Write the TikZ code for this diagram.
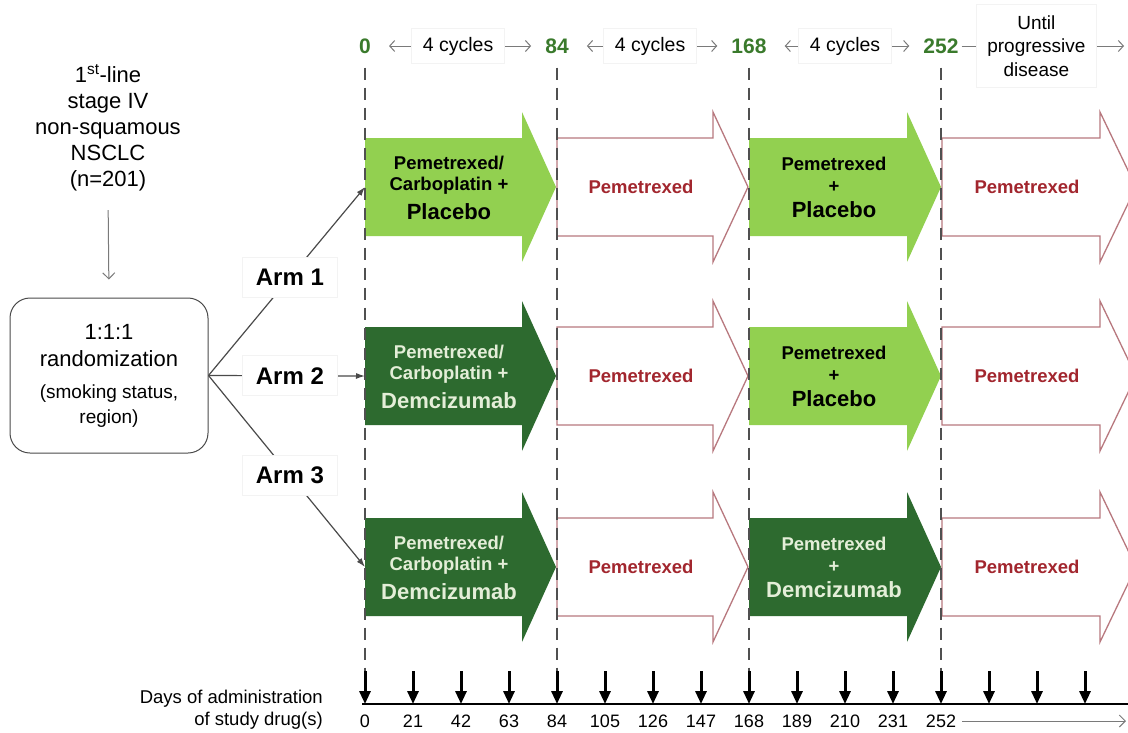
\documentclass[tikz,border=0pt]{standalone}
\usepackage{fontspec}
\setmainfont{Liberation Sans}
\usetikzlibrary{arrows.meta}
\newcommand{\fsz}[1]{\fontsize{#1}{26}\selectfont}
\newcommand{\fszb}[2]{\fontsize{#1}{#2}\selectfont}
\definecolor{lgreen}{HTML}{92D050}
\definecolor{dgreen}{HTML}{2D6A2F}
\definecolor{numgreen}{HTML}{3A7A2C}
\definecolor{pemred}{HTML}{A2262E}
\definecolor{outlinered}{HTML}{B8787E}
\definecolor{dashgray}{HTML}{505050}
\definecolor{cycgray}{HTML}{7A7A7A}
\definecolor{boxgray}{HTML}{F3F3F3}
\definecolor{armgray}{HTML}{4A4A4A}
\definecolor{paletext}{HTML}{E4EED8}
\newcommand{\blockarr}[5]{%
  \path[#5] (#1,#4-49) -- (#2,#4-49) -- (#2,#4-75) -- (#3,#4) -- (#2,#4+75) -- (#2,#4+49) -- (#1,#4+49) -- cycle;}
\begin{document}
\begin{tikzpicture}[x=1pt,y=-1pt,
  lightarrow/.style={fill=lgreen},
  darkarrow/.style={fill=dgreen},
  outlinearrow/.style={fill=white, draw=outlinered, line width=1.3pt, line join=miter},
  lighttext/.style={align=center, font=\bfseries\fszb{18.5}{21}, text=black, inner sep=0pt},
  darktext/.style={align=center, font=\bfseries\fszb{18.5}{21}, text=paletext, inner sep=0pt},
  pemtext/.style={font=\bfseries\fszb{18.5}{21}, text=pemred, inner sep=0pt},
  greennum/.style={text=numgreen, font=\bfseries\fsz{21}, inner sep=0pt},
  cyc/.style={draw=cycgray, line width=1pt, {Straight Barb[length=5pt,width=11pt]}-{Straight Barb[length=5pt,width=11pt]}, shorten <=18pt, shorten >=14pt},
  cycend/.style={draw=cycgray, line width=1pt, -{Straight Barb[length=5pt,width=11pt]}, shorten <=3pt},
  cycbox/.style={fill=white, draw=boxgray, line width=0.8pt, font=\fsz{19.5}, minimum width=93pt, minimum height=35pt, inner sep=0pt},
  untilbox/.style={fill=white, draw=boxgray, line width=0.8pt, font=\fszb{19}{23.5}, align=center, minimum width=120pt, minimum height=83pt, inner sep=0pt},
  dashline/.style={draw=dashgray, line width=2pt, dash pattern=on 12pt off 8pt},
  tick/.style={draw=black, line width=3pt, -{Triangle[length=13pt,width=11pt]}},
  daylabel/.style={font=\fsz{18}, inner sep=0pt},
  armline/.style={draw=armgray, line width=1.2pt, -{Latex[length=9pt,width=6pt]}},
  armlabel/.style={fill=white, draw=boxgray, line width=0.8pt, minimum width=95pt, minimum height=40pt, font=\bfseries\fsz{24}, inner sep=0pt},
  thinarrow/.style={draw=cycgray, line width=1pt, -{Straight Barb[length=6pt,width=12pt]}}
]
\useasboundingbox (0,0) rectangle (1128,732);
\clip (0,0) rectangle (1128,732);
\fill[white] (0,0) rectangle (1128,732);

% ---- block arrows, row 1
\blockarr{365}{522}{556}{187}{lightarrow}
\blockarr{557}{713}{748}{187}{outlinearrow}
\blockarr{749}{907}{941}{187}{lightarrow}
\blockarr{942}{1100}{1136}{187}{outlinearrow}
% row 2
\blockarr{365}{522}{556}{376}{darkarrow}
\blockarr{557}{713}{748}{376}{outlinearrow}
\blockarr{749}{907}{941}{376}{lightarrow}
\blockarr{942}{1100}{1136}{376}{outlinearrow}
% row 3
\blockarr{365}{522}{556}{567}{darkarrow}
\blockarr{557}{713}{748}{567}{outlinearrow}
\blockarr{749}{907}{941}{567}{darkarrow}
\blockarr{942}{1100}{1136}{567}{outlinearrow}

% ---- arrow texts
\node[lighttext] (t11) at (449,188) {Pemetrexed/\\Carboplatin +\\[8pt]{\fszb{22}{21}Placebo}};
\node[pemtext] (t12) at (641,187) {Pemetrexed};
\node[lighttext] (t13) at (834,187) {Pemetrexed\\[1pt]+\\[4pt]{\fszb{22}{21}Placebo}};
\node[pemtext] (t14) at (1027,187) {Pemetrexed};

\node[darktext] (t21) at (449,377) {Pemetrexed/\\Carboplatin +\\[8pt]{\fszb{22}{21}Demcizumab}};
\node[pemtext] (t22) at (641,376) {Pemetrexed};
\node[lighttext] (t23) at (834,376) {Pemetrexed\\[1pt]+\\[4pt]{\fszb{22}{21}Placebo}};
\node[pemtext] (t24) at (1027,376) {Pemetrexed};

\node[darktext] (t31) at (449,568) {Pemetrexed/\\Carboplatin +\\[8pt]{\fszb{22}{21}Demcizumab}};
\node[pemtext] (t32) at (641,567) {Pemetrexed};
\node[darktext] (t33) at (834,567) {Pemetrexed\\[1pt]+\\[4pt]{\fszb{22}{21}Demcizumab}};
\node[pemtext] (t34) at (1027,567) {Pemetrexed};

% ---- top day numbers and cycle arrows
\node[greennum] (n0) at (365,46) {0};
\node[greennum] (n84) at (557,46) {84};
\node[greennum] (n168) at (749,46) {168};
\node[greennum] (n252) at (941,46) {252};
\coordinate (uend) at (1124,46);
\draw[cyc] (n0) -- node[cycbox] (c1) {4 cycles} (n84);
\draw[cyc] (n84) -- node[cycbox] (c2) {4 cycles} (n168);
\draw[cyc] (n168) -- node[cycbox] (c3) {4 cycles} (n252);
\draw[cycend] (n252) -- node[untilbox, pos=0.47] (c4) {Until\\progressive\\disease} (uend);

% ---- dashed lines
\coordinate (d0) at (365,700);
\coordinate (d84) at (557,700);
\coordinate (d168) at (749,700);
\coordinate (d252) at (941,700);
\draw[dashline] ([yshift=-14pt]n0.south) -- (d0);
\draw[dashline] ([yshift=-14pt]n84.south) -- (d84);
\draw[dashline] ([yshift=-14pt]n168.south) -- (d168);
\draw[dashline] ([yshift=-14pt]n252.south) -- (d252);

% ---- timeline
\coordinate (tl0) at (362,704);
\coordinate (tl1) at (1128,704);
\draw[line width=2pt] (tl0) -- (tl1);
\foreach \i in {0,...,15} {
  \coordinate (tt\i) at (365+48*\i,671);
  \coordinate (tb\i) at (365+48*\i,704);
  \draw[tick] (tt\i) -- (tb\i);
}
\foreach \i/\d in {0/0,1/21,2/42,3/63,4/84,5/105,6/126,7/147,8/168,9/189,10/210,11/231,12/252} {
  \node[daylabel] (dl\i) at (365+48*\i,721) {\d};
}
\coordinate (dend) at (1126,721);
\draw[thinarrow, shorten <=6pt] (dl12.east) -- (dend);
\node[font=\fszb{18.5}{22}, align=right, anchor=east, inner sep=0pt] (days) at (323,710) {Days of administration\\of study drug(s)};

% ---- left side
\node[font=\fsz{22}, align=center, inner sep=0pt] (src) at (108,128) {1\textsuperscript{st}-line\\stage IV\\non-squamous\\NSCLC\\(n=201)};
\node[draw=armgray, line width=1pt, rounded corners=20pt, minimum width=198pt, minimum height=155pt, align=center, inner sep=0pt, font=\fsz{22}] (rand) at (109,375.5)
  {1:1:1\\[1pt]randomization\\[6pt]{\fsz{19}(smoking status,}\\[-1pt]{\fsz{19}region)}};
\draw[thinarrow, shorten <=19pt, shorten >=18pt] (src.center |- src.south) -- (rand.north);

% ---- arms
\coordinate (r1) at (365,187);
\coordinate (r2) at (365,376);
\coordinate (r3) at (365,567);
\draw[armline] (rand.east) -- node[armlabel, pos=0.52] (arm1) {Arm 1} (r1);
\draw[armline] (rand.east) -- node[armlabel, pos=0.52] (arm2) {Arm 2} (r2);
\draw[armline] (rand.east) -- node[armlabel, pos=0.52] (arm3) {Arm 3} (r3);
\end{tikzpicture}
\end{document}
